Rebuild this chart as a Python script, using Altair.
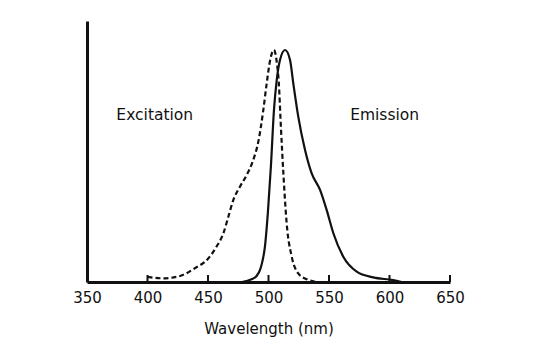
import altair as alt
import pandas as pd

ex_wl = [400, 413, 427, 439, 450, 457, 462.7, 466.8, 470.9, 476.4, 482, 487.4, 491.6, 495.7, 498.5, 501.5, 504.5, 507, 508.5, 510.1, 512.3, 515.0, 519.2, 524.6, 531.6, 540]
ex_val = [0.022, 0.016, 0.026, 0.059, 0.10, 0.152, 0.21, 0.281, 0.353, 0.411, 0.461, 0.526, 0.605, 0.741, 0.856, 0.96, 1.0, 0.94, 0.86, 0.684, 0.468, 0.254, 0.109, 0.037, 0.012, 0.0]

em_wl = [478, 486, 490, 493, 495, 497, 499.5, 502, 504.5, 506.8, 509.5, 513.7, 517.8, 520.5, 524.6, 530.2, 535.7, 542.6, 548.1, 553.6, 561.8, 572.9, 586.6, 603, 610]
em_val = [0.0, 0.012, 0.025, 0.052, 0.09, 0.15, 0.3, 0.5, 0.74, 0.87, 0.957, 1.0, 0.957, 0.856, 0.713, 0.569, 0.468, 0.397, 0.31, 0.21, 0.109, 0.045, 0.02, 0.008, 0.0]

tick_values = [350, 400, 450, 500, 550, 600, 650]
labels = ["Excitation", "Emission"]
label_x = [406, 596]
label_y = [0.72, 0.72]

W, H = 363, 261
FONT = "DejaVu Sans"

ex = pd.DataFrame({"wl": ex_wl, "v": ex_val})
em = pd.DataFrame({"wl": em_wl, "v": em_val})
ticks = pd.DataFrame({"wl": tick_values[1:]})
lab = pd.DataFrame({"t": labels, "wl": label_x, "v": label_y})

xs = alt.Scale(domain=[350, 650], nice=False)
ys = alt.Scale(domain=[0, 1.125], nice=False)

xaxis = alt.Axis(values=tick_values, tickSize=0, labelFontSize=15, labelFont=FONT, labelColor="#111",
                 labelPadding=8, labelFlush=False, labelOverlap=False, labelBound=False,
                 domainWidth=3, domainColor="#111", grid=False,
                 title="Wavelength (nm)", titleFontSize=15, titleFont=FONT, titleFontWeight="normal",
                 titleColor="#111", titlePadding=16)
yaxis = alt.Axis(ticks=False, labels=False, title=None, domainWidth=3, domainColor="#111", grid=False)

exl = alt.Chart(ex).mark_line(color="#111", strokeWidth=2.2, strokeDash=[5, 3], interpolate="monotone").encode(
    x=alt.X("wl:Q", scale=xs, axis=xaxis), y=alt.Y("v:Q", scale=ys, axis=yaxis))
eml = alt.Chart(em).mark_line(color="#111", strokeWidth=2.2, interpolate="monotone").encode(
    x=alt.X("wl:Q", scale=xs), y=alt.Y("v:Q", scale=ys))
tk = alt.Chart(ticks).mark_rule(color="#111", strokeWidth=2).encode(
    x=alt.X("wl:Q", scale=xs), y=alt.value(H), y2=alt.value(H - 7))
tx = alt.Chart(lab).mark_text(fontSize=15.5, font=FONT, color="#111").encode(
    x=alt.X("wl:Q", scale=xs), y=alt.Y("v:Q", scale=ys), text="t:N")

chart = alt.layer(exl, eml, tk, tx).properties(
    width=W, height=H,
    background="white",
    autosize=alt.AutoSizeParams(type="none"),
    padding={"left": 87, "top": 21, "right": 86, "bottom": 75},
).configure_view(strokeWidth=0, stroke="transparent")

chart.save("out.html", embed_options={"renderer": "svg", "actions": False})
